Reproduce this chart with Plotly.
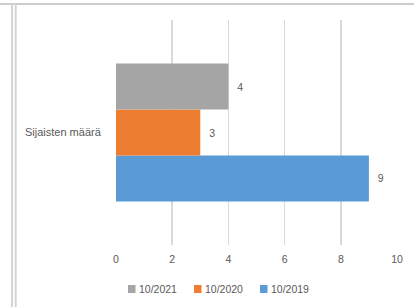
import plotly.graph_objects as go

categories = ["Sijaisten määrä"]
series_names = ["10/2019", "10/2020", "10/2021"]
series_values = [[9], [3], [4]]
series_colors = ["#5B9BD5", "#ED7D31", "#A5A5A5"]
x_ticks = [0, 2, 4, 6, 8, 10]

W, H = 414, 307
L, R, T, B = 116, 17, 20, 62
pw, ph = W - L - R, H - T - B

fig = go.Figure()
for name, vals, col in zip(series_names, series_values, series_colors):
    fig.add_trace(go.Bar(
        y=categories, x=vals, name=name, orientation="h",
        marker=dict(color=col, line=dict(width=0)),
        texttemplate="\u00a0\u00a0%{x}", textposition="outside",
        textfont=dict(size=10.5, color="#595959", family="Liberation Sans"),
        cliponaxis=False, showlegend=False, hoverinfo="skip",
    ))

def px_x(p):
    return (p - L) / pw

def px_y(p):
    return (H - B - p) / ph

shapes = [
    dict(type="line", xref="paper", yref="paper", x0=px_x(0), x1=px_x(W), y0=px_y(4), y1=px_y(4),
         line=dict(color="#CDCDCD", width=2)),
    dict(type="line", xref="paper", yref="paper", x0=px_x(12), x1=px_x(12), y0=px_y(4), y1=px_y(H),
         line=dict(color="#D4D4D4", width=2)),
    dict(type="line", xref="paper", yref="paper", x0=px_x(15.7), x1=px_x(15.7), y0=px_y(4), y1=px_y(H),
         line=dict(color="#D4D4D4", width=2)),
]

# custom legend (reversed order: 2021, 2020, 2019)
annotations = []
leg_x0, leg_step, leg_y = 128, 66, 289
for i, (name, col) in enumerate(reversed(list(zip(series_names, series_colors)))):
    sx = leg_x0 + i * leg_step
    shapes.append(dict(type="rect", xref="paper", yref="paper",
                       x0=px_x(sx), x1=px_x(sx + 7.5), y0=px_y(leg_y + 4), y1=px_y(leg_y - 4),
                       fillcolor=col, line=dict(width=0)))
    annotations.append(dict(xref="paper", yref="paper", x=px_x(sx + 9), y=px_y(leg_y),
                            xanchor="left", yanchor="middle", text=name, showarrow=False,
                            font=dict(size=10.5, color="#595959", family="Liberation Sans")))

fig.update_layout(
    width=W, height=H,
    margin=dict(l=L, r=R, t=T, b=B, autoexpand=False),
    paper_bgcolor="white", plot_bgcolor="white",
    barmode="group", bargap=0.387, bargroupgap=0,
    showlegend=False, hovermode=False,
    font=dict(family="Liberation Sans", color="#595959", size=10.5),
    shapes=shapes, annotations=annotations,
    xaxis=dict(range=[0, 10], tickvals=x_ticks, showgrid=True, gridcolor="#D9D9D9", gridwidth=1.5,
               zeroline=False, showline=False, ticks="outside", ticklen=4, tickcolor="rgba(0,0,0,0)",
               tickfont=dict(size=10.5, color="#595959"), automargin=False),
    yaxis=dict(showgrid=False, zeroline=False, showline=False, ticks="outside", ticklen=12,
               tickcolor="rgba(0,0,0,0)", tickfont=dict(size=11, color="#595959"), automargin=False),
)

fig.write_html("out.html", config={"displayModeBar": False, "staticPlot": True},
               post_script="document.body.style.margin='0';document.body.style.overflow='hidden';")
